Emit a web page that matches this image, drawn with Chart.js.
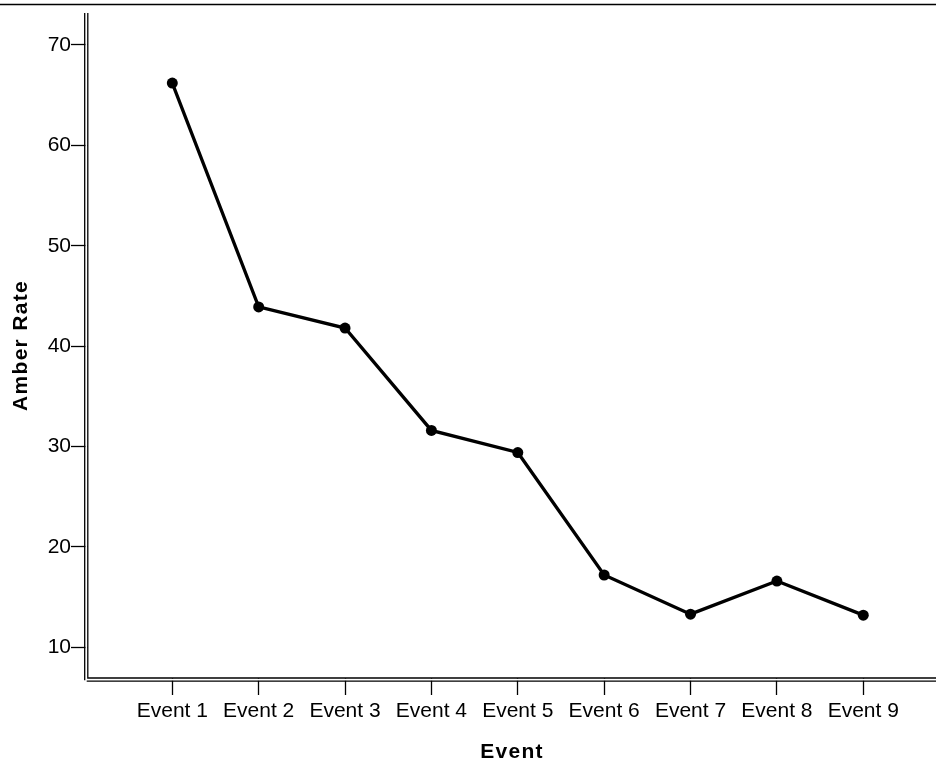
<!DOCTYPE html>
<html>
<head>
<meta charset="utf-8">
<script src="https://cdn.jsdelivr.net/npm/chart.js@4/dist/chart.umd.min.js"></script>
<style>
html,body{margin:0;padding:0;background:#fff;}
canvas{display:block;}
</style>
</head>
<body>
<canvas id="c" width="936" height="761"></canvas>
<script>
// ---- data ----
const categories = ["Event 1","Event 2","Event 3","Event 4","Event 5","Event 6","Event 7","Event 8","Event 9"];
const amberRate = [66.2, 43.9, 41.8, 31.6, 29.4, 17.2, 13.3, 16.6, 13.2];
const yTickValues = [10, 20, 30, 40, 50, 60, 70];
const xTitle = "Event";
const yTitle = "Amber Rate";

const FONT = "'Liberation Sans', Arial, Helvetica, sans-serif";

const points = amberRate.map((v, i) => ({ x: i + 1, y: v }));

const framePlugin = {
  id: 'frame',
  afterUpdate(chart) {
    Object.values(chart.scales).forEach(s => {
      if (s._patchedTitle) return;
      const orig = s.drawTitle.bind(s);
      s.drawTitle = function () {
        const ctx = this.ctx;
        ctx.save();
        ctx.letterSpacing = '1.3px';
        orig();
        ctx.restore();
      };
      s._patchedTitle = true;
    });
  },
  afterDraw(chart) {
    const ctx = chart.ctx;
    const a = chart.chartArea;
    const W = chart.width;
    ctx.save();
    ctx.strokeStyle = '#000';
    // top border
    ctx.lineWidth = 1.6;
    ctx.beginPath();
    ctx.moveTo(0, 4.5); ctx.lineTo(W, 4.5);
    ctx.stroke();
    // clear gaps between double lines
    ctx.fillStyle = '#fff';
    ctx.fillRect(a.left - 2.6, a.top, 2.2, a.bottom - a.top + 3);
    ctx.fillRect(a.left - 1, a.bottom + 0.6, W - a.left + 1, 2.2);
    ctx.lineWidth = 1.3;
    // inner y line + inner x line
    ctx.beginPath();
    ctx.moveTo(a.left - 0.2, a.top); ctx.lineTo(a.left - 0.2, a.bottom);
    ctx.lineTo(W, a.bottom);
    ctx.stroke();
    // outer y line
    ctx.beginPath();
    ctx.moveTo(a.left - 3.3, a.top); ctx.lineTo(a.left - 3.3, a.bottom + 2.2);
    ctx.stroke();
    // outer x line
    ctx.beginPath();
    ctx.moveTo(a.left - 1.3, a.bottom + 3.2); ctx.lineTo(W, a.bottom + 3.2);
    ctx.stroke();
    ctx.restore();
  }
};

new Chart(document.getElementById('c'), {
  type: 'line',
  data: {
    datasets: [{
      data: points,
      borderColor: '#000',
      backgroundColor: '#000',
      borderWidth: 3.3,
      pointRadius: 5.5,
      pointHoverRadius: 5.5,
      pointBorderWidth: 0,
      pointBackgroundColor: '#000',
      tension: 0,
      fill: false
    }]
  },
  options: {
    responsive: false,
    animation: false,
    devicePixelRatio: 1,
    layout: { autoPadding: false, padding: { top: 13, left: 0, right: 0, bottom: 0 } },
    plugins: { legend: { display: false }, tooltip: { enabled: false } },
    events: [],
    scales: {
      x: {
        type: 'linear',
        min: 0.024,
        max: 9.842,
        afterBuildTicks: s => { s.ticks = categories.map((c, i) => ({ value: i + 1 })); },
        afterFit: s => { s.height = 83; s.paddingLeft = 0; s.paddingRight = 0; },
        grid: { drawOnChartArea: false, drawTicks: true, tickLength: 17, tickColor: '#000', tickWidth: 1.3 },
        border: { display: false },
        ticks: {
          autoSkip: false,
          maxRotation: 0,
          padding: 4,
          color: '#000',
          font: { family: FONT, size: 21 },
          callback: v => categories[Math.round(v) - 1] || ''
        },
        title: {
          display: true,
          text: xTitle,
          color: '#000',
          font: { family: FONT, size: 21, weight: 'bold', lineHeight: 1 },
          padding: { top: 0, bottom: -2 }
        }
      },
      y: {
        type: 'linear',
        min: 6.94,
        max: 73.18,
        afterBuildTicks: s => { s.ticks = yTickValues.map(v => ({ value: v })); },
        afterFit: s => { s.width = 88; s.paddingTop = 0; s.paddingBottom = 0; },
        grid: { drawOnChartArea: false, drawTicks: true, tickLength: 17, tickColor: '#000', tickWidth: 1.3 },
        border: { display: false },
        ticks: {
          padding: 0,
          color: '#000',
          font: { family: FONT, size: 21 },
          callback: v => String(v)
        },
        title: {
          display: true,
          text: yTitle,
          color: '#000',
          font: { family: FONT, size: 21, weight: 'bold', lineHeight: 1 },
          padding: { top: 10.5, bottom: 0 }
        }
      }
    }
  },
  plugins: [framePlugin]
});
</script>
</body>
</html>
